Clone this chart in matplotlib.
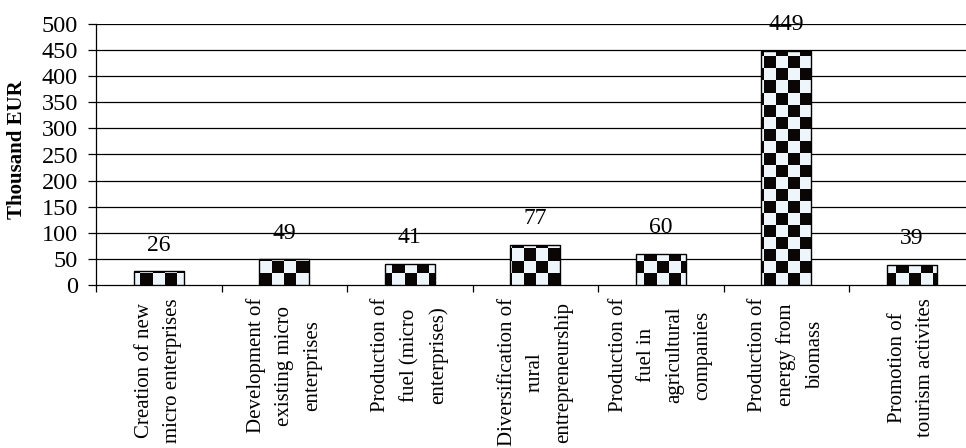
import numpy as np
import matplotlib
matplotlib.use("Agg")
import matplotlib.pyplot as plt
from matplotlib import transforms
from matplotlib.colors import ListedColormap

plt.rcParams["font.family"] = ["Liberation Serif", "DejaVu Serif"]

categories = [
    "Creation of new\nmicro enterprises",
    "Development of\nexisting micro\nenterprises",
    "Production of\nfuel (micro\nenterprises)",
    "Diversification of\nrural\nentrepreneurship",
    "Production of\nfuel in\nagricultural\ncompanies",
    "Production of\nenergy from\nbiomass",
    "Promotion of\ntourism activites",
]
values = [26, 49, 41, 77, 60, 449, 39]
y_ticks = [0, 50, 100, 150, 200, 250, 300, 350, 400, 450, 500]

W, H = 966, 448
fig = plt.figure(figsize=(W / 100, H / 100), dpi=100)

# axes box in pixels: left 96, bottom edge 285 from top, top edge 24 from top
cat_w = 125.5
ax_left, ax_top, ax_bot = 96, 24, 285
ax_w = cat_w * len(categories)
ax = fig.add_axes([ax_left / W, (H - ax_bot) / H, ax_w / W, (ax_bot - ax_top) / H])

n = len(categories)
x = np.arange(n) + 0.5
ax.set_xlim(0, n)
ax.set_ylim(0, 500)

# horizontal grid lines
for yv in y_ticks[1:]:
    ax.axhline(yv, color="black", lw=0.9, zorder=1)

bars = ax.bar(x, values, width=0.4, facecolor="none", edgecolor="black",
              linewidth=1.0, zorder=4)

# checkerboard fill, 12 px squares laid out in pixel space
sq = 12
nx = int(np.ceil(ax_w / sq)) + 2
ny = int(np.ceil((ax_bot - ax_top) / sq)) + 2
ii, jj = np.meshgrid(np.arange(nx), np.arange(ny))
board = ((ii + jj + 1) % 2).astype(float)
cmap = ListedColormap(["#eef6fb", "#0a0606"])
x_ext = nx * sq / cat_w
y_ext = ny * sq / ((ax_bot - ax_top) / 500)
x0 = -4 / cat_w
for b in bars:
    im = ax.imshow(board, cmap=cmap, vmin=0, vmax=1, interpolation="nearest",
                   extent=(x0, x0 + x_ext, 0, y_ext), origin="lower",
                   aspect="auto", zorder=3)
    im.set_clip_path(b)
ax.set_xlim(0, n)
ax.set_ylim(0, 500)

# value labels
for xi, v in zip(x, values):
    ax.annotate(str(v), (xi, v), xytext=(0, 19), textcoords="offset points",
                ha="center", va="center", fontsize=17, zorder=5)

# axes styling
for s in ("top", "right"):
    ax.spines[s].set_visible(False)
ax.spines["left"].set_linewidth(0.9)
ax.spines["bottom"].set_linewidth(0.9)
ax.set_yticks(y_ticks)
ax.set_yticklabels([str(t) for t in y_ticks], fontsize=17.5)
ax.tick_params(axis="y", direction="out", length=6, width=0.9, pad=7)
ax.set_xticks(np.arange(n + 1))
ax.set_xticklabels([])
ax.tick_params(axis="x", direction="out", length=5, width=0.9)

# category labels, rotated
trans = transforms.blended_transform_factory(ax.transData, ax.transAxes)
for xi, lab in zip(x, categories):
    ax.text(xi, -0.05, lab, transform=trans, rotation=90, ha="center",
            va="top", multialignment="center", fontsize=15, linespacing=1.65)

fig.text(17 / W, 1 - 150 / H, "Thousand EUR", rotation=90, ha="center",
         va="center", fontsize=15, fontweight="bold")

fig.savefig("out.png", dpi=100)
